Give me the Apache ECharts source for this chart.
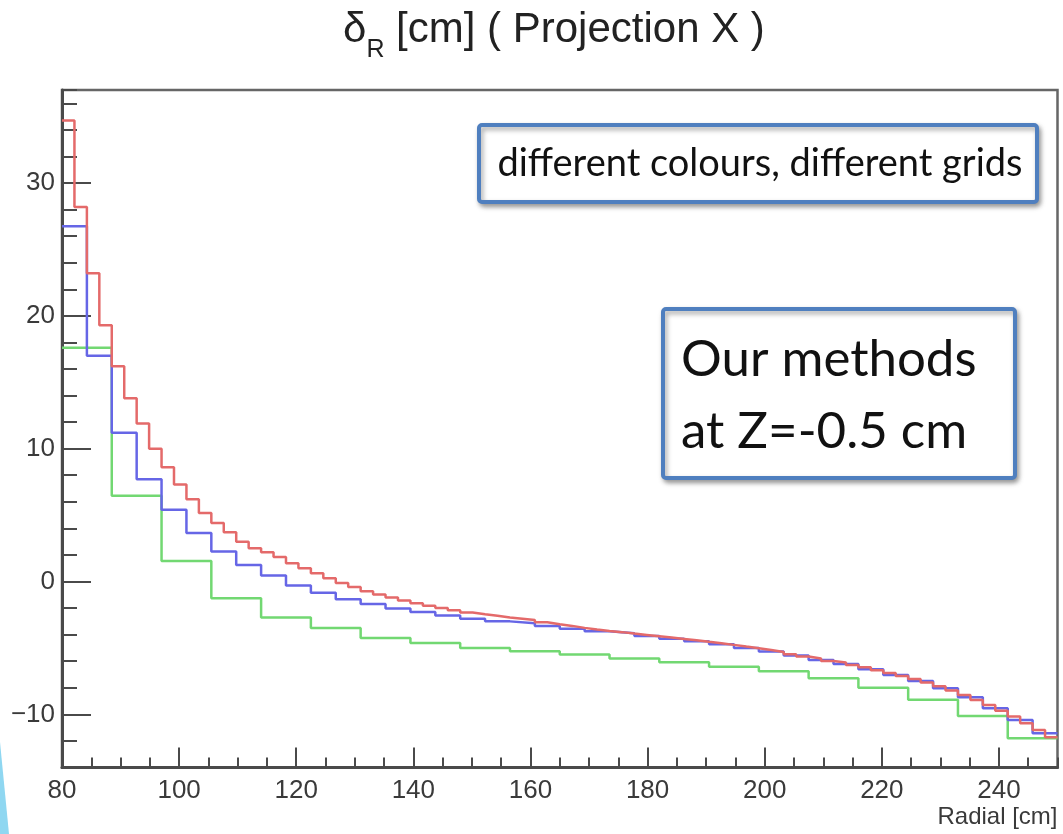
<!DOCTYPE html>
<html><head><meta charset="utf-8">
<script src="https://cdn.jsdelivr.net/npm/echarts@6/dist/echarts.min.js"></script>
<style>html,body{margin:0;padding:0;background:#fff}#c{width:1063px;height:834px}</style>
</head><body><div id="c"></div>
<script>
// ---- data ----
const X_MIN = 80, X_MAX = 250;
const Y_MIN = -14, Y_MAX = 37;
const xMajorTicks = [80, 100, 120, 140, 160, 180, 200, 220, 240];
const yMajorTicks = [-10, 0, 10, 20, 30];
const redBinWidth = 2.125;   // 80 bins
const blueBinWidth = 4.25;   // 40 bins
const greenBinWidth = 8.5;   // 20 bins
const redValues = [
  34.7, 28.2, 23.2, 19.3, 16.2, 13.8, 11.9, 10.0, 8.6, 7.3,
  6.2, 5.15, 4.4, 3.7, 3.0, 2.5, 2.21, 1.84, 1.38, 1.0,
  0.63, 0.25, -0.12, -0.42, -0.73, -0.98, -1.2, -1.43, -1.63, -1.83,
  -2.0, -2.16, -2.33, -2.46, -2.58, -2.71, -2.8, -2.89, -3.06, -3.21,
  -3.34, -3.49, -3.62, -3.72, -3.81, -3.92, -4.02, -4.12, -4.22, -4.32,
  -4.42, -4.54, -4.64, -4.77, -4.9, -5.02, -5.15, -5.3, -5.47, -5.65,
  -5.8, -5.98, -6.1, -6.28, -6.45, -6.68, -6.88, -7.11, -7.33, -7.61,
  -7.88, -8.21, -8.54, -8.91, -9.29, -9.72, -10.17, -10.67, -11.18, -11.73
];
const blueValues = [
  26.75, 17.0, 11.2, 7.7, 5.4, 3.65, 2.26, 1.25, 0.45, -0.3,
  -0.85, -1.33, -1.7, -2.03, -2.3, -2.55, -2.8, -3.0, -3.15, -3.34,
  -3.55, -3.75, -3.9, -4.1, -4.3, -4.5, -4.72, -5.0, -5.27, -5.57,
  -5.9, -6.2, -6.6, -7.03, -7.48, -8.03, -8.71, -9.54, -10.42, -11.42
];
const greenValues = [
  17.6, 6.46, 1.55, -1.25, -2.7, -3.5, -4.25, -4.62, -5.0, -5.25,
  -5.5, -5.8, -6.07, -6.42, -6.76, -7.28, -8.0, -8.9, -10.13, -11.8
];
const titleMain = '\u03b4';
const titleSub = 'R';
const titleRest = ' [cm] ( Projection X )';

// ---- build step (histogram) data: left bin edges + closing right edge ----
function histPoints(values, width) {
  const pts = values.map((v, i) => [X_MIN + i * width, v]);
  pts.push([X_MIN + values.length * width, values[values.length - 1]]);
  return pts;
}

const AXIS_COLOR = '#4a4a4a';
const LABEL_FONT = 'Liberation Sans';
const fmtNum = v => (v < 0 ? '\u2212' + Math.abs(v) : String(v));

// measure title pieces so the subscript sits right after the delta
const mctx = document.createElement('canvas').getContext('2d');
const TITLE_FONT = '42px "Liberation Sans"';
const SUB_FONT = '25px "Liberation Sans"';
mctx.font = TITLE_FONT; const wMain = mctx.measureText(titleMain).width;
mctx.font = SUB_FONT; const wSub = mctx.measureText(titleSub).width;
const TITLE_X = 343;

const chart = echarts.init(document.getElementById('c'), null, {renderer: 'canvas'});
chart.setOption({
  animation: false,
  backgroundColor: '#ffffff',
  grid: {left: 62, top: 90, width: 995.5, height: 677.5, show: true, borderColor: '#666', borderWidth: 2.5, backgroundColor: 'transparent'},
  xAxis: [
    {
      type: 'value', min: X_MIN, max: X_MAX, interval: 5, position: 'bottom',
      axisLine: {show: true, onZero: false, lineStyle: {color: AXIS_COLOR, width: 3}},
      axisTick: {show: true, inside: true, length: 10, lineStyle: {color: AXIS_COLOR, width: 2}},
      axisLabel: {show: false}, splitLine: {show: false}
    },
    {
      type: 'value', min: X_MIN, max: X_MAX, position: 'bottom',
      axisLine: {show: false, onZero: false},
      axisTick: {show: true, inside: true, length: 20, customValues: xMajorTicks, lineStyle: {color: AXIS_COLOR, width: 2}},
      axisLabel: {show: true, customValues: xMajorTicks, fontSize: 26, fontFamily: LABEL_FONT, color: '#3a3a3a', margin: 10, formatter: fmtNum},
      splitLine: {show: false},
      name: 'Radial [cm]', nameLocation: 'end', nameGap: 0,
      nameTextStyle: {fontSize: 24, fontFamily: LABEL_FONT, color: '#3a3a3a', align: 'right', verticalAlign: 'top', padding: [38, 0, 0, 0]}
    }
  ],
  yAxis: [
    {
      type: 'value', min: Y_MIN, max: Y_MAX, interval: 2, position: 'left',
      axisLine: {show: true, onZero: false, lineStyle: {color: AXIS_COLOR, width: 3}},
      axisTick: {show: true, inside: true, length: 15, lineStyle: {color: AXIS_COLOR, width: 2}},
      axisLabel: {show: false}, splitLine: {show: false}
    },
    {
      type: 'value', min: Y_MIN, max: Y_MAX, position: 'left',
      axisLine: {show: false, onZero: false},
      axisTick: {show: true, inside: true, length: 29, customValues: yMajorTicks, lineStyle: {color: AXIS_COLOR, width: 2}},
      axisLabel: {show: true, customValues: yMajorTicks, fontSize: 26, fontFamily: LABEL_FONT, color: '#3a3a3a', margin: 7, formatter: fmtNum},
      splitLine: {show: false}
    }
  ],
  series: [
    {name: 'green', type: 'line', step: 'end', xAxisIndex: 0, yAxisIndex: 0, symbol: 'none',
     data: histPoints(greenValues, greenBinWidth), lineStyle: {color: '#72d872', width: 2.5}},
    {name: 'blue', type: 'line', step: 'end', xAxisIndex: 0, yAxisIndex: 0, symbol: 'none',
     data: histPoints(blueValues, blueBinWidth), lineStyle: {color: '#6666e6', width: 2.5}},
    {name: 'red', type: 'line', step: 'end', xAxisIndex: 0, yAxisIndex: 0, symbol: 'none',
     data: histPoints(redValues, redBinWidth), lineStyle: {color: '#e46a6a', width: 2.5}}
  ],
  graphic: [
    // title: delta with subscript R
    {type: 'text', x: TITLE_X, y: 30, style: {text: titleMain, font: TITLE_FONT, fill: '#222', align: 'left', verticalAlign: 'middle'}},
    {type: 'text', x: TITLE_X + wMain, y: 50, style: {text: titleSub, font: SUB_FONT, fill: '#222', align: 'left', verticalAlign: 'middle'}},
    {type: 'text', x: TITLE_X + wMain + wSub, y: 30, style: {text: titleRest, font: TITLE_FONT, fill: '#222', align: 'left', verticalAlign: 'middle'}},
    // slide decoration
    {type: 'polygon', shape: {points: [[0, 742], [9, 834], [0, 834]]}, style: {fill: '#8fd7f1'}},
    // annotation boxes
    {type: 'rect', shape: {x: 479, y: 125, width: 558, height: 77, r: 3},
     style: {fill: '#ffffff', stroke: '#4f7fbf', lineWidth: 4, shadowBlur: 5, shadowOffsetX: 2, shadowOffsetY: 3, shadowColor: 'rgba(0,0,0,0.35)'}},
    {type: 'text', x: 760, y: 164,
     style: {text: 'different colours, different grids', font: '38px Lato', fill: '#111', align: 'center', verticalAlign: 'middle'}},
    {type: 'rect', shape: {x: 663, y: 309, width: 352, height: 169, r: 3},
     style: {fill: '#ffffff', stroke: '#4f7fbf', lineWidth: 4, shadowBlur: 5, shadowOffsetX: 2, shadowOffsetY: 3, shadowColor: 'rgba(0,0,0,0.35)'}},
    {type: 'text', x: 681, y: 360,
     style: {text: 'Our methods', font: '51px Lato', fill: '#111', align: 'left', verticalAlign: 'middle'}},
    {type: 'text', x: 681, y: 432,
     style: {text: 'at Z=-0.5 cm', font: '51px Lato', fill: '#111', align: 'left', verticalAlign: 'middle'}}
  ]
});
</script>
</body></html>
